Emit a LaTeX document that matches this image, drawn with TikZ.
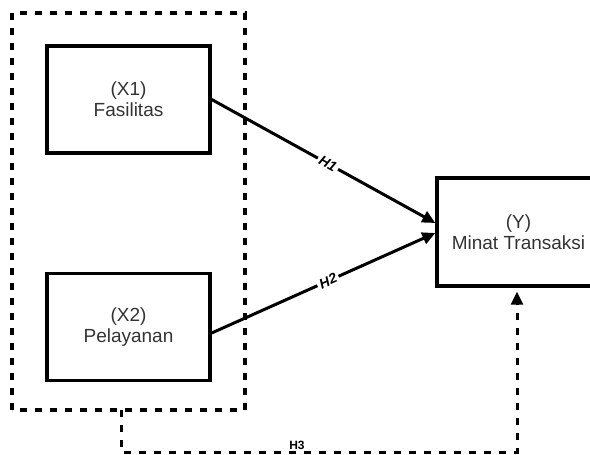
\documentclass[tikz,border=0pt]{standalone}
\usepackage{fontspec}
\setmainfont{Liberation Sans}
\usepackage{tikz}
\usetikzlibrary{arrows.meta, positioning}
\tikzstyle{block} = [rectangle, draw, line width=3.4pt, minimum width=163pt, minimum height=107pt, text centered, align=center, text=black!80, font=\fontsize{19}{21}\selectfont]
\tikzstyle{group} = [draw, line width=3.4pt, dash pattern=on 7pt off 8pt]
\tikzstyle{blank} = [inner sep=0, outer sep=0]
\tikzstyle{line} = [draw, line width=3pt, -{Triangle[length=13pt,width=12pt]}]
\tikzstyle{hyp} = [sloped, fill=white, inner sep=2.5pt, font=\bfseries\itshape\fontsize{14}{14}\selectfont]

\begin{document}
\begin{tikzpicture}[x=1pt, y=1pt, node distance=227.5pt]
\useasboundingbox (0,0) rectangle (590,455);

\node [block] (X1) at (128.5,355.5) {(X1)\\Fasilitas};
\node [block, below of=X1] (X2) {(X2)\\Pelayanan};
\node [block, minimum height=108pt] (Y) at (518.5,223) {(Y)\\Minat Transaksi};

% kotak putus-putus X1 dan X2
\draw [group] (12,45) rectangle (245,442);
\node [blank] (G) at (121,45) {};
\node [blank, below of=G, yshift=185pt] (3) {};

\path [line] (X1.east) -- node[hyp, pos=0.52] {H1} ([yshift=9pt]Y.west);
\path [line] ([yshift=-6pt]X2.east) -- node[hyp, pos=0.52] {H2} ([yshift=-1pt]Y.west);
\draw [group, line width=3pt, -{Triangle[length=13pt,width=12pt]}] (G) |- (3.center) -| ([xshift=-1.5pt, yshift=-4pt]Y.south);
\node [blank, fill=white, inner sep=1.5pt, anchor=south, font=\bfseries\fontsize{12}{12}\selectfont] (H3) at (297,3.5) {H3};

\end{tikzpicture}
\end{document}
